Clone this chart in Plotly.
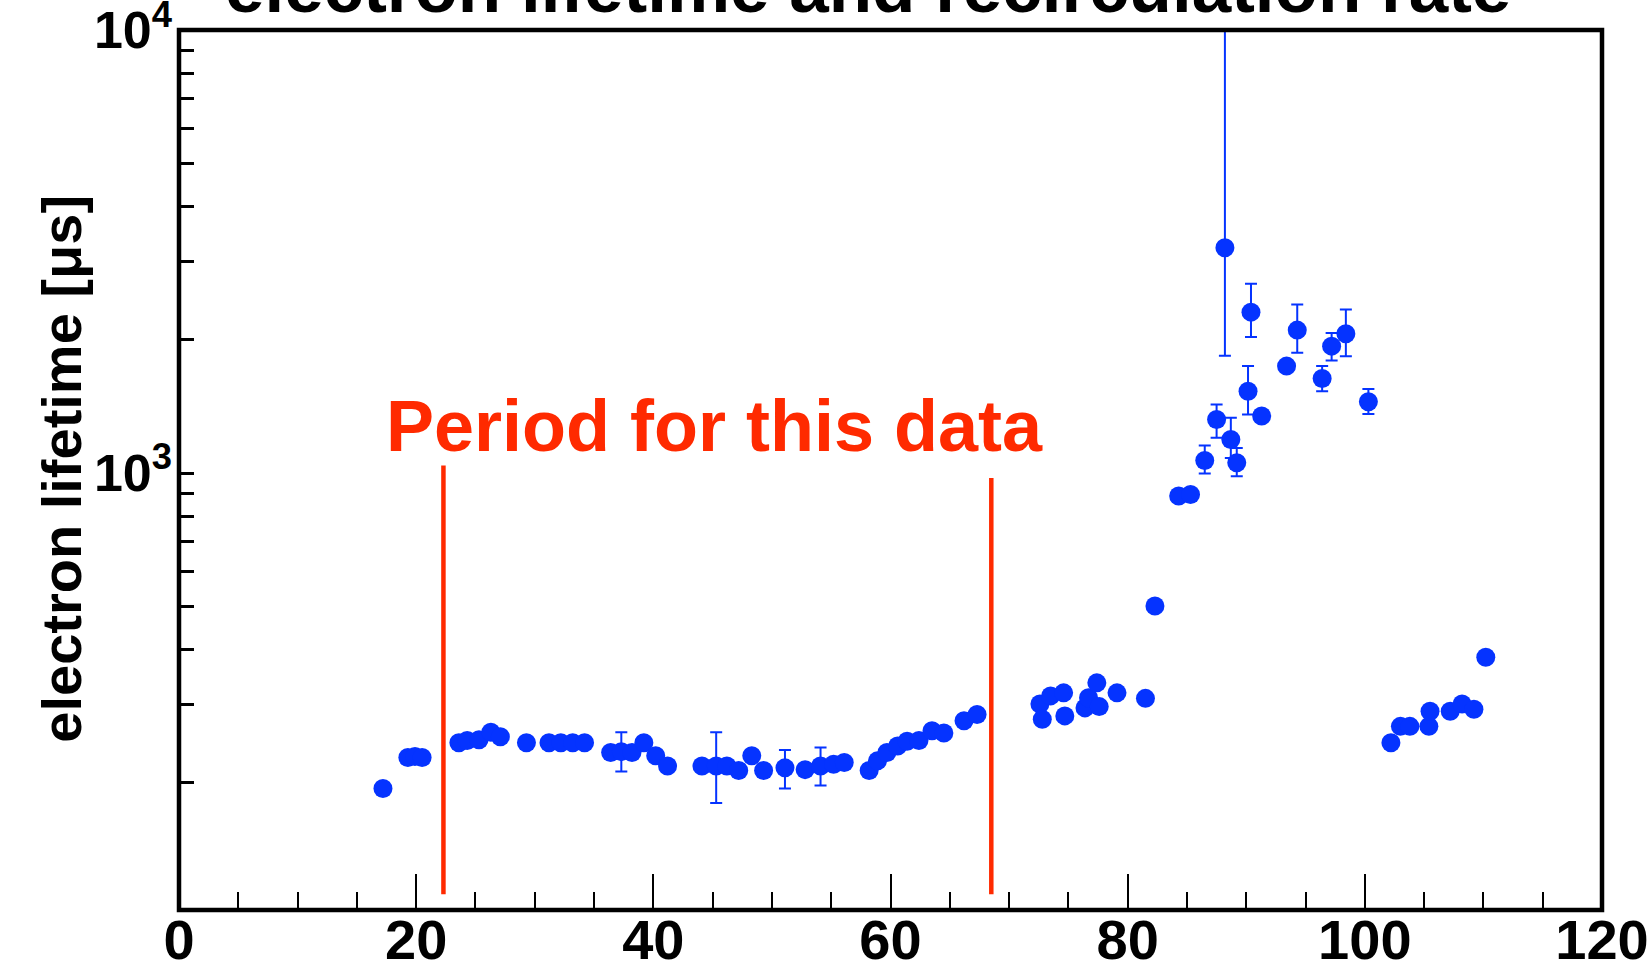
import plotly.graph_objects as go

# ---- data ----
days = [17.2, 19.3, 19.9, 20.5, 23.6, 24.3, 25.3, 26.3, 27.1, 29.3,
        31.2, 32.2, 33.2, 34.2, 36.4, 37.3, 38.2, 39.2, 40.2, 41.2,
        44.1, 45.3, 46.2, 47.2, 48.3, 49.3, 51.1, 52.8, 54.1, 55.2,
        56.1, 58.2, 58.9, 59.7, 60.6, 61.4, 62.4, 63.5, 64.5, 66.2,
        67.3, 72.6, 72.8, 73.5, 74.6, 74.7, 76.4, 76.7, 77.4, 77.6,
        79.1, 81.5, 82.3, 84.3, 85.3, 86.5, 87.5, 88.2, 88.7, 89.2,
        90.15, 90.4, 91.3, 93.4, 94.3, 96.4, 97.2, 98.4, 100.3, 102.2,
        103.0, 103.8, 105.4, 105.5, 107.2, 108.2, 109.2, 110.2]
lifetime = [194, 228, 229, 228, 246, 249, 250, 260, 254, 246,
            246, 246, 246, 246, 234, 235, 234, 246, 230, 218,
            218, 218, 218, 213, 230, 213, 216, 214, 218, 220,
            222, 213, 224, 234, 242, 248, 249, 262, 259, 276,
            285, 301, 278, 314, 319, 283, 295, 311, 336, 297,
            319, 310, 501, 888, 895, 1068, 1322, 3226, 1191, 1055,
            1531, 2309, 1345, 1744, 2103, 1636, 1935, 2063, 1449, 246,
            268, 268, 268, 290, 290, 301, 293, 384]
err_up = [0, 0, 0, 0, 0, 0, 0, 0, 0, 0,
          0, 0, 0, 0, 0, 25, 0, 0, 0, 0,
          0, 42, 0, 0, 0, 0, 21, 0, 22, 0,
          0, 0, 0, 0, 0, 0, 0, 0, 0, 0,
          0, 0, 0, 0, 0, 0, 0, 0, 0, 0,
          0, 0, 0, 0, 0, 86, 107, 6774, 142, 85,
          213, 367, 0, 0, 301, 108, 138, 279, 100, 0,
          0, 0, 0, 0, 0, 0, 0, 0]
err_down = [0, 0, 0, 0, 0, 0, 0, 0, 0, 0,
            0, 0, 0, 0, 0, 23, 0, 0, 0, 0,
            0, 38, 0, 0, 0, 0, 22, 0, 21, 0,
            0, 0, 0, 0, 0, 0, 0, 0, 0, 0,
            0, 0, 0, 0, 0, 0, 0, 0, 0, 0,
            0, 0, 0, 0, 0, 70, 121, 1385, 110, 71,
            174, 281, 0, 0, 234, 105, 139, 227, 90, 0,
            0, 0, 0, 0, 0, 0, 0, 0]

period_x = [22.3, 68.5]
period_y_bottom = [112, 112]
period_y_top = [1040, 975]

x_tick_vals = [0, 20, 40, 60, 80, 100, 120]
y_tick_vals = [200, 300, 400, 500, 600, 700, 800, 900,
               1000, 2000, 3000, 4000, 5000, 6000, 7000, 8000, 9000, 10000]
y_tick_text = ["", "", "", "", "", "", "", "",
               "10<sup>3</sup>", "", "", "", "", "", "", "", "", "10<sup>4</sup>"]

title_text = "electron lifetime and recirculation rate"
y_title = "electron lifetime [\u03bcs]"
period_label = "Period for this data"

BLUE = "#0533ff"
RED = "#ff2a00"
FONT = "Liberation Sans, Arial, Helvetica, sans-serif"

fig = go.Figure()

for xv, yb, yt in zip(period_x, period_y_bottom, period_y_top):
    fig.add_trace(go.Scatter(x=[xv, xv], y=[yb, yt], mode="lines",
                             line=dict(color=RED, width=4.5),
                             hoverinfo="skip", showlegend=False))

fig.add_trace(go.Scatter(
    x=days, y=lifetime, mode="markers",
    marker=dict(color=BLUE, size=19, symbol="circle", line=dict(width=0)),
    error_y=dict(type="data", symmetric=False, array=err_up, arrayminus=err_down,
                 color=BLUE, thickness=2, width=6),
    showlegend=False))

fig.update_layout(
    width=1650, height=969,
    margin=dict(l=179, r=48, t=30, b=59, autoexpand=False),
    paper_bgcolor="white", plot_bgcolor="white",
    showlegend=False,
    xaxis=dict(range=[0, 120], tickvals=x_tick_vals, ticks="inside",
               ticklen=36, tickwidth=2, tickcolor="black", automargin=False,
               ticklabeloverflow="allow", ticklabelstandoff=-8,
               minor=dict(dtick=5, tick0=0, ticks="inside", ticklen=18,
                          tickwidth=2, tickcolor="black", showgrid=False),
               showgrid=False, zeroline=False, showline=False,
               tickfont=dict(family=FONT, size=56, color="black", weight="bold")),
    yaxis=dict(type="log", range=[2.0135, 4.0005], tickvals=y_tick_vals,
               ticktext=y_tick_text, ticks="inside", ticklen=15, tickwidth=2.5,
               tickcolor="black", showgrid=False, zeroline=False, showline=False,
               automargin=False, ticklabeloverflow="allow", ticklabelstandoff=6,
               tickfont=dict(family=FONT, size=52, color="black", weight="bold")),
    shapes=[dict(type="rect", xref="paper", yref="paper", x0=0, x1=1, y0=0, y1=1,
                 line=dict(color="black", width=4.5), layer="above")],
    annotations=[
        dict(text=title_text, xref="paper", yref="paper", x=0.4842, y=1.0483,
             xanchor="center", yanchor="middle", showarrow=False,
             font=dict(family=FONT, size=71, color="black", weight="bold")),
        dict(text=y_title, xref="paper", yref="paper", x=-0.0828, y=0.5017,
             xanchor="center", yanchor="middle", showarrow=False, textangle=-90,
             font=dict(family=FONT, size=56, color="black", weight="bold")),
        dict(text=period_label, xref="paper", yref="paper", x=0.1441, y=0.5502,
             xanchor="left", yanchor="middle", showarrow=False,
             font=dict(family=FONT, size=72, color=RED, weight="bold")),
    ],
)

fig.write_html("out.html")
